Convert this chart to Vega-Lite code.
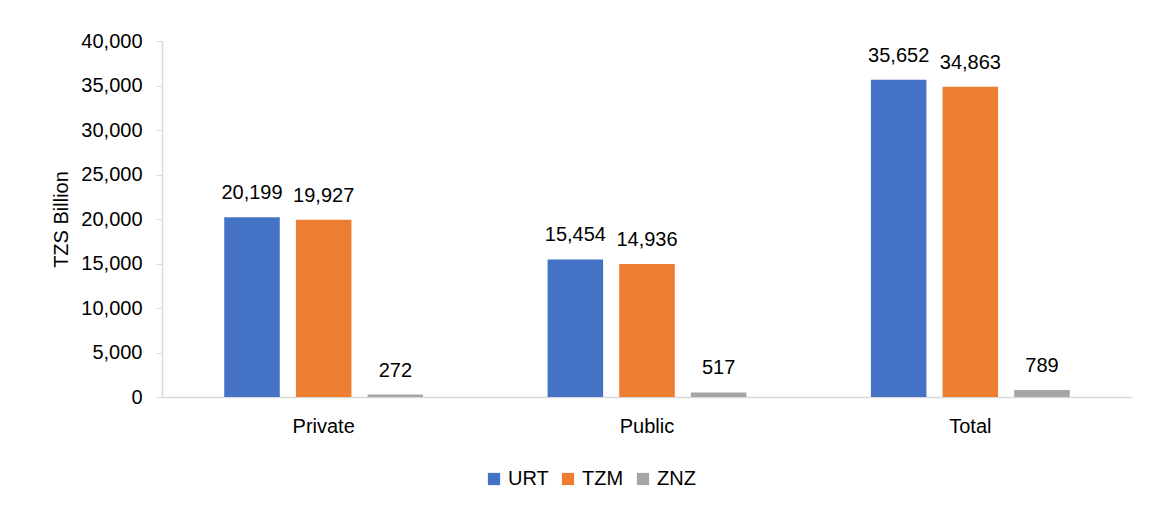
{
  "$schema": "https://vega.github.io/schema/vega-lite/v6.json",
  "autosize": "none",
  "width": 970,
  "height": 356,
  "padding": {"left": 162, "top": 41, "right": 23, "bottom": 111},
  "background": "white",
  "config": {
    "font": "Liberation Sans, Arial, sans-serif",
    "view": {"stroke": null}
  },
  "data": {
    "values": [
      {"sector": "Private", "region": "URT", "value": 20199},
      {"sector": "Private", "region": "TZM", "value": 19927},
      {"sector": "Private", "region": "ZNZ", "value": 272},
      {"sector": "Public", "region": "URT", "value": 15454},
      {"sector": "Public", "region": "TZM", "value": 14936},
      {"sector": "Public", "region": "ZNZ", "value": 517},
      {"sector": "Total", "region": "URT", "value": 35652},
      {"sector": "Total", "region": "TZM", "value": 34863},
      {"sector": "Total", "region": "ZNZ", "value": 789}
    ]
  },
  "encoding": {
    "x": {
      "field": "sector", "type": "nominal", "sort": ["Private", "Public", "Total"],
      "scale": {"paddingInner": 0.385, "paddingOuter": 0.1925},
      "axis": {
        "title": null, "labelAngle": 0, "ticks": false, "labelPadding": 19,
        "labelFontSize": 20, "labelColor": "#000000",
        "domainColor": "#D9D9D9", "domainWidth": 1.5
      }
    },
    "xOffset": {
      "field": "region", "type": "nominal", "sort": ["URT", "TZM", "ZNZ"],
      "scale": {"paddingInner": 0.225, "paddingOuter": 0}
    },
    "y": {
      "field": "value", "type": "quantitative",
      "scale": {"domain": [0, 40000], "nice": false},
      "axis": {
        "title": "TZS Billion", "titleFontSize": 20, "titleFontWeight": "normal", "titleColor": "#000000", "titlePadding": 9,
        "values": [0, 5000, 10000, 15000, 20000, 25000, 30000, 35000, 40000],
        "format": ",d", "grid": false,
        "labelFontSize": 20, "labelColor": "#000000", "labelPadding": 14,
        "tickSize": 6, "tickColor": "#D9D9D9", "domainColor": "#D9D9D9", "domainWidth": 1.5
      }
    }
  },
  "layer": [
    {
      "mark": {"type": "bar"},
      "encoding": {
        "color": {
          "field": "region", "type": "nominal", "sort": ["URT", "TZM", "ZNZ"],
          "scale": {"domain": ["URT", "TZM", "ZNZ"], "range": ["#4472C4", "#ED7D31", "#A5A5A5"]},
          "legend": {
            "title": null, "orient": "none", "direction": "horizontal",
            "legendX": 322, "legendY": 428,
            "symbolType": "square", "symbolSize": 150, "symbolStrokeWidth": 0,
            "labelFontSize": 20, "labelColor": "#000000", "labelOffset": 4, "columnPadding": 9
          }
        }
      }
    },
    {
      "mark": {"type": "text", "baseline": "bottom", "dy": -14, "fontSize": 20, "color": "#000000"},
      "encoding": {
        "text": {"field": "value", "type": "quantitative", "format": ","}
      }
    }
  ]
}
